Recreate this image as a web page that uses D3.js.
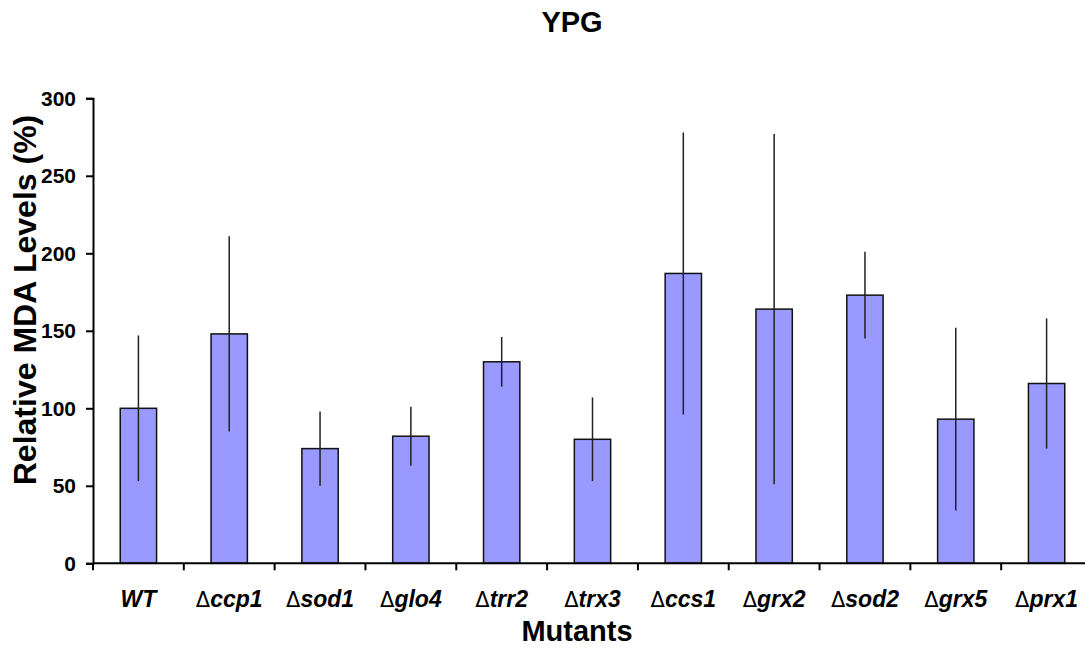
<!DOCTYPE html>
<html>
<head>
<meta charset="utf-8">
<script src="https://cdn.jsdelivr.net/npm/d3@7"></script>
<style>
  body { margin: 0; background: #fff; }
  svg { font-family: "Liberation Sans", Arial, Helvetica, sans-serif; }
</style>
</head>
<body>
<svg id="chart" width="1085" height="648"></svg>
<script>
// data
const mutants = ['WT', 'ccp1', 'sod1', 'glo4', 'trr2', 'trx3', 'ccs1', 'grx2', 'sod2', 'grx5', 'prx1']
const deleted = [false, true, true, true, true, true, true, true, true, true, true]
const mda = [100, 148, 74, 82, 130, 80, 187, 164, 173, 93, 116]
const err = [47, 63, 24, 19, 16, 27, 91, 113, 28, 59, 42]
const yTicks = [0, 50, 100, 150, 200, 250, 300]

const svg = d3.select('#chart')
const x0 = 93, x1 = 1092, yTop = 98.3, yBot = 563.3

const x = d3.scaleBand()
    .domain(mutants)
    .range([x0, x1])
    .paddingInner(0.6)
    .paddingOuter(0.3)

const y = d3.scaleLinear()
    .domain([0, 300])
    .range([yBot, yTop])

const rows = mutants.map((m, i) => ({ m, del: deleted[i], v: mda[i], e: err[i] }))

// bars
svg.append('g').selectAll('rect')
    .data(rows)
  .enter().append('rect')
    .attr('x', d => x(d.m))
    .attr('y', d => y(d.v))
    .attr('width', x.bandwidth())
    .attr('height', d => y(0) - y(d.v))
    .attr('fill', '#9999FF')
    .attr('stroke', '#111')
    .attr('stroke-width', 1.5)

// error bars, plain lines no caps
svg.append('g').selectAll('line')
    .data(rows)
  .enter().append('line')
    .attr('x1', d => x(d.m) + x.bandwidth() / 2)
    .attr('x2', d => x(d.m) + x.bandwidth() / 2)
    .attr('y1', d => y(d.v + d.e))
    .attr('y2', d => y(d.v - d.e))
    .attr('stroke', '#222')
    .attr('stroke-width', 1.5)

// y axis
const yAxis = svg.append('g')
    .attr('transform', `translate(${x0},0)`)
    .call(d3.axisLeft(y).tickValues(yTicks).tickSize(7).tickPadding(10))
yAxis.select('.domain').attr('stroke', '#000').attr('stroke-width', 2)
yAxis.selectAll('.tick line').attr('stroke', '#000').attr('stroke-width', 2)
yAxis.selectAll('.tick text')
    .attr('font-size', 21).attr('font-weight', 'bold').attr('fill', '#000')
    .attr('font-family', '"Liberation Sans", Arial, sans-serif')

// x axis: line, ticks between categories, labels
const gx = svg.append('g')
gx.append('line')
    .attr('x1', x0).attr('x2', x1)
    .attr('y1', y(0)).attr('y2', y(0))
    .attr('stroke', '#000').attr('stroke-width', 2)
const gap = (x.step() - x.bandwidth()) / 2
const bounds = mutants.map(m => x(m) - gap).concat([x(mutants[mutants.length - 1]) + x.bandwidth() + gap])
gx.selectAll('line.tk')
    .data(bounds)
  .enter().append('line')
    .attr('class', 'tk')
    .attr('x1', d => d).attr('x2', d => d)
    .attr('y1', y(0)).attr('y2', y(0) + 7)
    .attr('stroke', '#000').attr('stroke-width', 2)

const lbl = gx.selectAll('text')
    .data(rows)
  .enter().append('text')
    .attr('x', d => x(d.m) + x.bandwidth() / 2)
    .attr('y', 607)
    .attr('text-anchor', 'middle')
    .attr('font-size', 23)
lbl.filter(d => d.del).append('tspan')
    .attr('font-family', '"DejaVu Sans", sans-serif')
    .attr('font-size', 21)
    .text('\u0394')
lbl.append('tspan')
    .attr('font-weight', 'bold')
    .attr('font-style', 'italic')
    .text(d => d.m)

// titles
svg.append('text')
    .attr('x', 572).attr('y', 32)
    .attr('text-anchor', 'middle')
    .attr('font-size', 29).attr('font-weight', 'bold')
    .text('YPG')

svg.append('text')
    .attr('x', 577).attr('y', 641)
    .attr('text-anchor', 'middle')
    .attr('font-size', 29).attr('font-weight', 'bold')
    .text('Mutants')

svg.append('text')
    .attr('transform', 'translate(36,300) rotate(-90)')
    .attr('text-anchor', 'middle')
    .attr('font-size', 32).attr('font-weight', 'bold')
    .text('Relative MDA Levels (%)')
</script>
</body>
</html>
